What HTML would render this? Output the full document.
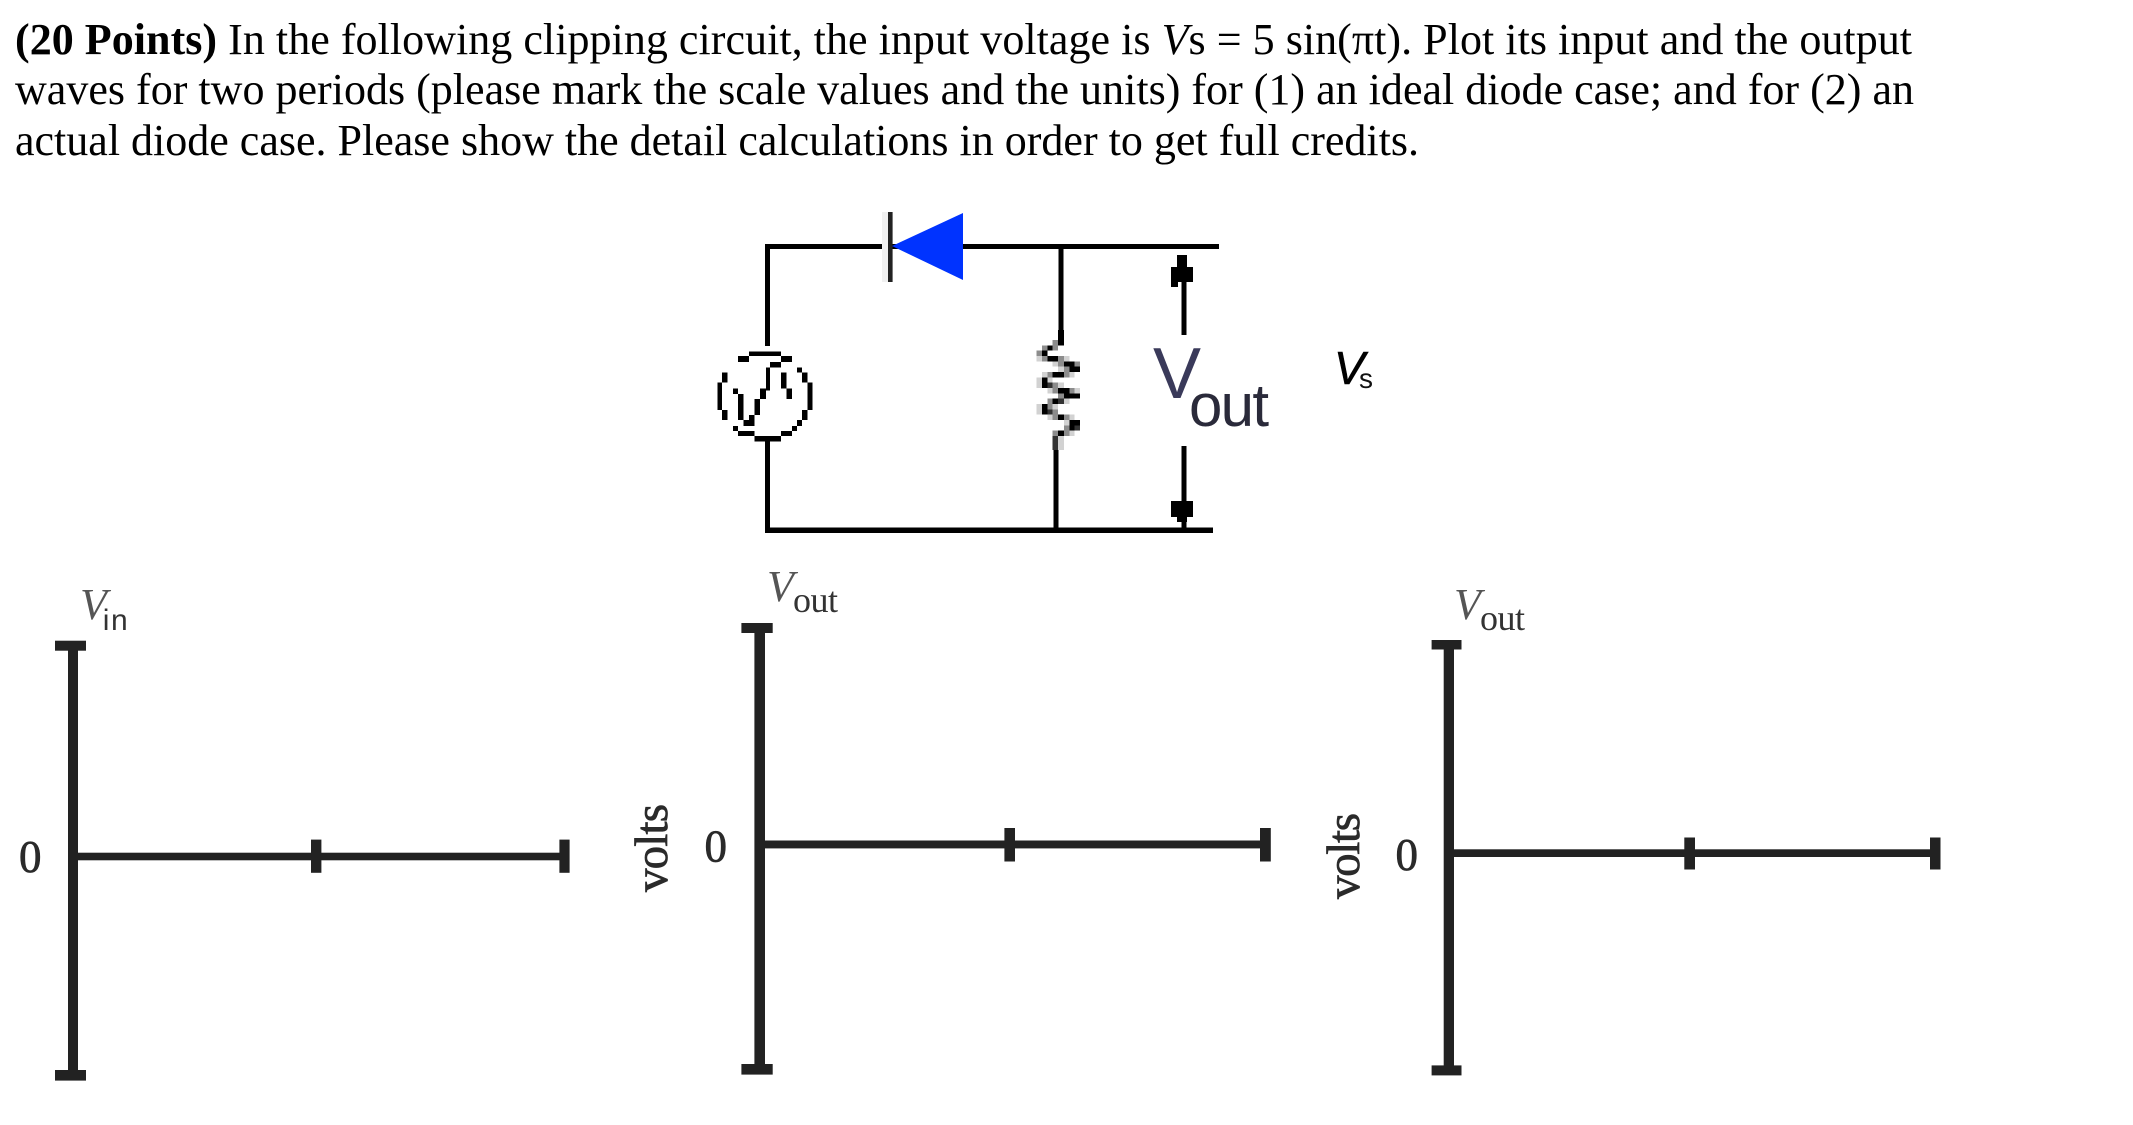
<!DOCTYPE html>
<html><head><meta charset="utf-8"><style>
html,body{margin:0;padding:0;background:#fff;width:2133px;height:1125px;overflow:hidden}
svg{display:block}
.t{font:44px "Liberation Serif",serif;fill:#000}
.s{font-family:"Liberation Serif",serif;fill:#333}
.a{font-family:"Liberation Sans",sans-serif;fill:#333}
.v{font-family:"Liberation Serif",serif;fill:#2a2a2a;stroke:#2a2a2a;stroke-width:.7}
.l{font-family:"Liberation Serif",serif;fill:#555;font-style:italic}
</style></head><body>
<svg width="2133" height="1125" viewBox="0 0 2133 1125" xmlns="http://www.w3.org/2000/svg">
<text class="t" x="15" y="54" textLength="1897"><tspan font-weight="bold">(20 Points)</tspan> In the following clipping circuit, the input voltage is <tspan font-style="italic">V</tspan>s = 5 sin(πt). Plot its input and the output</text>
<text class="t" x="15" y="104" textLength="1899">waves for two periods (please mark the scale values and the units) for (1) an ideal diode case; and for (2) an</text>
<text class="t" x="15" y="155" textLength="1404">actual diode case. Please show the detail calculations in order to get full credits.</text>

<g fill="#000">
<rect x="765" y="244" width="454" height="5"/>
<rect x="765" y="527.5" width="448" height="5.5"/>
<rect x="765" y="244" width="5" height="102"/>
<rect x="765" y="441" width="5" height="90"/>
<rect x="1058.5" y="244" width="5" height="101"/>
<rect x="1053.5" y="435" width="5" height="96"/>
<rect x="1181.5" y="282" width="5" height="53"/>
<rect x="1181.5" y="446" width="5" height="82"/>
<path d="M1177 255H1187V267H1193V282H1178V287H1171V267H1177Z"/>
<path d="M1171 501H1193V517H1187V522H1177V517H1171Z"/>
<rect x="882" y="212" width="6" height="70" fill="#f0f0f0"/>
<rect x="888" y="212" width="4.6" height="70" fill="#222"/>
</g>
<polygon points="892,246 963,213 963,280" fill="#0033ff"/>

<g transform="translate(700,190) scale(.4593,.3333)" fill="#000" shape-rendering="crispEdges">
<rect x="107" y="484" width="69" height="14"/><rect x="83" y="498" width="24" height="18"/><rect x="176" y="498" width="24" height="18"/>
<rect x="152" y="516" width="24" height="16"/><rect x="211" y="532" width="11" height="15"/><rect x="222" y="547" width="12" height="31"/>
<rect x="144" y="532" width="8" height="70"/><rect x="176" y="547" width="12" height="48"/><rect x="48" y="547" width="12" height="31"/>
<rect x="38" y="578" width="10" height="82"/><rect x="48" y="660" width="12" height="30"/><rect x="72" y="595" width="11" height="17"/>
<rect x="83" y="612" width="12" height="78"/><rect x="131" y="595" width="13" height="32"/><rect x="188" y="595" width="12" height="32"/>
<rect x="119" y="627" width="12" height="48"/><rect x="107" y="675" width="12" height="15"/><rect x="95" y="690" width="24" height="18"/>
<rect x="234" y="578" width="11" height="82"/><rect x="222" y="660" width="12" height="30"/><rect x="211" y="690" width="11" height="18"/>
<rect x="200" y="708" width="11" height="15"/><rect x="176" y="723" width="24" height="15"/><rect x="83" y="723" width="36" height="15"/>
<rect x="72" y="708" width="11" height="15"/><rect x="119" y="738" width="57" height="17"/>
</g>

<g transform="translate(1020,330) scale(.33333)" shape-rendering="crispEdges">
<g fill="#000">
<rect x="114" y="0" width="18" height="46"/>
<rect x="82" y="46" width="16" height="16"/>
<rect x="66" y="62" width="16" height="16"/>
<rect x="82" y="78" width="32" height="16"/>
<rect x="132" y="94" width="32" height="16"/>
<rect x="148" y="110" width="32" height="16"/>
<rect x="98" y="126" width="34" height="16"/>
<rect x="66" y="142" width="16" height="32"/>
<rect x="114" y="174" width="34" height="16"/>
<rect x="132" y="190" width="48" height="16"/>
<rect x="98" y="206" width="16" height="16"/>
<rect x="66" y="222" width="16" height="32"/>
<rect x="114" y="254" width="18" height="16"/>
<rect x="148" y="270" width="32" height="16"/>
<rect x="148" y="286" width="16" height="16"/>
<rect x="114" y="302" width="18" height="16"/>
</g>
<g fill="#333">
<rect x="82" y="158" width="16" height="16"/><rect x="114" y="206" width="18" height="16"/><rect x="82" y="238" width="16" height="16"/><rect x="164" y="286" width="16" height="16"/><rect x="98" y="318" width="16" height="42"/>
</g>
<g fill="#8c8c8c">
<rect x="98" y="30" width="16" height="16"/><rect x="66" y="46" width="16" height="16"/><rect x="98" y="46" width="16" height="16"/><rect x="50" y="62" width="16" height="16"/><rect x="66" y="78" width="16" height="16"/><rect x="114" y="78" width="18" height="16"/><rect x="114" y="94" width="18" height="16"/><rect x="164" y="94" width="16" height="16"/><rect x="132" y="110" width="16" height="16"/><rect x="82" y="126" width="16" height="16"/><rect x="132" y="126" width="16" height="16"/><rect x="98" y="158" width="16" height="16"/><rect x="98" y="174" width="16" height="16"/><rect x="148" y="174" width="16" height="16"/><rect x="114" y="190" width="18" height="16"/><rect x="82" y="206" width="16" height="16"/><rect x="82" y="222" width="16" height="16"/><rect x="98" y="238" width="16" height="16"/><rect x="98" y="254" width="16" height="16"/><rect x="132" y="254" width="16" height="16"/><rect x="132" y="286" width="16" height="16"/><rect x="98" y="302" width="16" height="16"/><rect x="132" y="302" width="16" height="16"/>
</g>
<g fill="#d2d2d2">
<rect x="50" y="78" width="16" height="16"/><rect x="132" y="78" width="16" height="16"/><rect x="98" y="94" width="16" height="16"/><rect x="114" y="110" width="18" height="16"/><rect x="66" y="126" width="16" height="16"/><rect x="148" y="126" width="16" height="16"/><rect x="50" y="142" width="16" height="32"/><rect x="82" y="142" width="16" height="16"/><rect x="114" y="158" width="18" height="16"/><rect x="82" y="174" width="16" height="16"/><rect x="164" y="174" width="16" height="16"/><rect x="132" y="206" width="16" height="16"/><rect x="50" y="222" width="16" height="32"/><rect x="98" y="222" width="16" height="16"/><rect x="82" y="254" width="16" height="16"/><rect x="148" y="254" width="16" height="16"/><rect x="132" y="270" width="16" height="16"/><rect x="148" y="302" width="16" height="16"/><rect x="114" y="318" width="18" height="42"/>
</g>
</g>

<text class="a" style="fill:#3a3a5a" x="1153" y="398" font-size="72">V</text>
<text class="a" style="fill:#2a2a3a" x="1189" y="426" font-size="60" textLength="80">out</text>
<text class="a" style="fill:#000;stroke:#000;stroke-width:.6" x="1334" y="384" font-size="46" font-style="italic">V</text>
<text class="a" style="fill:#111" x="1359" y="388" font-size="28">s</text>

<g fill="#222">
<rect x="68" y="645" width="10" height="430"/><rect x="55" y="640.7" width="31" height="10"/><rect x="55" y="1070" width="31" height="10.6"/>
<rect x="78" y="852.7" width="491" height="7.6"/><rect x="311" y="839.6" width="10.4" height="33.2"/><rect x="559.4" y="839.6" width="10.2" height="33.2"/>

<rect x="754.4" y="627" width="10.6" height="442"/><rect x="741.4" y="623" width="31.3" height="10"/><rect x="741.4" y="1064" width="31.3" height="10.6"/>
<rect x="765" y="840.5" width="505" height="7.9"/><rect x="1004.4" y="828" width="10.6" height="33.5"/><rect x="1260" y="828" width="10.8" height="33.5"/>

<rect x="1443.7" y="644" width="10.3" height="426"/><rect x="1431.6" y="640" width="29.9" height="9.5"/><rect x="1431.6" y="1065.4" width="29.9" height="10"/>
<rect x="1454" y="849.3" width="486" height="7.7"/><rect x="1684.3" y="837.5" width="10.7" height="32"/><rect x="1930" y="837.5" width="10.5" height="32"/>
</g>

<text class="v" x="19" y="872" font-size="45">0</text>
<text class="l" x="80" y="619" font-size="44">V</text>
<text class="a" x="102.7" y="630" font-size="30" textLength="25">in</text>
<text class="v" font-size="47" textLength="88" transform="translate(667,892) rotate(-90)">volts</text>

<text class="v" x="704.5" y="861.5" font-size="45">0</text>
<text class="l" x="767" y="601" font-size="44">V</text>
<text class="s" x="793" y="612" font-size="36" textLength="45">out</text>

<text class="v" font-size="47" textLength="86" transform="translate(1359,899) rotate(-90)">volts</text>
<text class="v" x="1395.5" y="870" font-size="45">0</text>
<text class="l" x="1454" y="619" font-size="44">V</text>
<text class="s" x="1480" y="630" font-size="36" textLength="45">out</text>
</svg>
</body></html>
